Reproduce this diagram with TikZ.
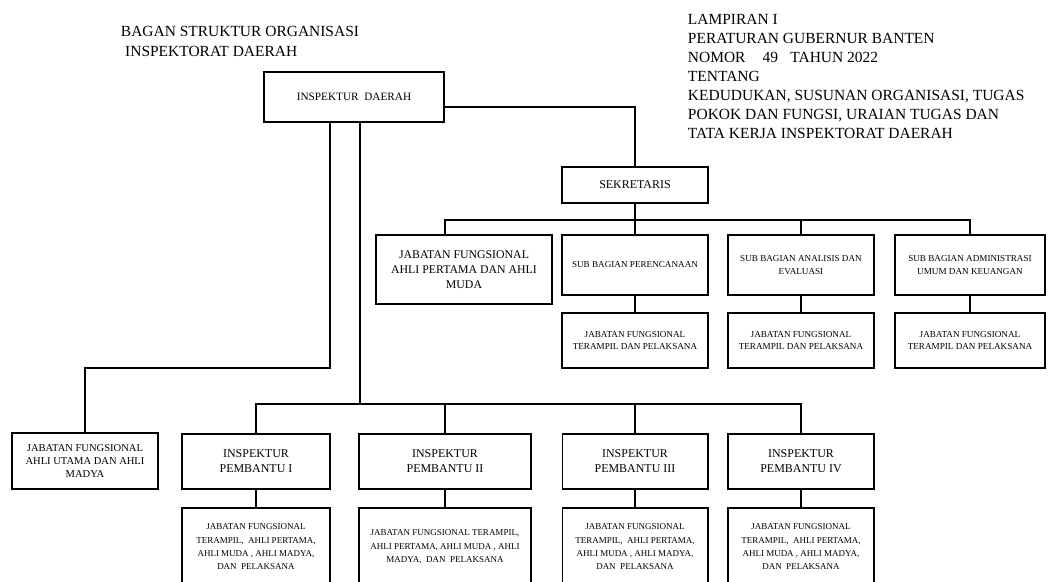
\documentclass[tikz,border=0pt]{standalone}
\usepackage{fontspec}
\setmainfont{Liberation Serif}

\begin{document}
\begin{tikzpicture}[x=0.025cm,y=-0.025cm,line width=1.4pt,
  box/.style={draw,align=center,inner sep=1pt},
  kop/.style={anchor=north west,align=left,inner sep=0pt},
  kecil/.style={font=\fontsize{6.5}{9}\selectfont},
  sedang/.style={font=\fontsize{8.5}{10.6}\selectfont},
  bawah/.style={font=\fontsize{6.4}{9.5}\selectfont}]
\useasboundingbox (0,0) rectangle (1048,581);
\clip (0,0) rectangle (1048,581);

% judul dan lampiran
\node[kop,font=\fontsize{11}{14.2}\selectfont] (judul) at (120,25)
  {BAGAN STRUKTUR ORGANISASI\\\hspace*{3pt}INSPEKTORAT DAERAH};
\node[kop,font=\fontsize{11}{13.5}\selectfont] (lampiran) at (687,13)
  {LAMPIRAN I\\PERATURAN GUBERNUR BANTEN\\NOMOR\hspace{1.1em}49\hspace{0.8em}TAHUN 2022\\TENTANG\\
   KEDUDUKAN, SUSUNAN ORGANISASI, TUGAS\\POKOK DAN FUNGSI, URAIAN TUGAS DAN\\TATA KERJA INSPEKTORAT DAERAH};

\node[box,font=\fontsize{8}{10}\selectfont,minimum width=4.5cm,minimum height=1.25cm] (inspektur) at (354,97) {INSPEKTUR\ \ DAERAH};
\node[box,sedang,minimum width=3.65cm,minimum height=0.9cm] (sekretaris) at (635,185) {SEKRETARIS};

% baris sekretariat
\node[box,font=\fontsize{8.4}{10.6}\selectfont,minimum width=4.4cm,minimum height=1.725cm] (jfpertama) at (464,269.5)
  {JABATAN FUNGSIONAL\\AHLI PERTAMA DAN AHLI\\MUDA};
\node[box,kecil,minimum width=3.65cm,minimum height=1.5cm] (sbrencana) at (635,265) {SUB BAGIAN PERENCANAAN};
\node[box,kecil,minimum width=3.65cm,minimum height=1.5cm] (sbanalisis) at (801,265) {SUB BAGIAN ANALISIS DAN\\EVALUASI};
\node[box,kecil,minimum width=3.75cm,minimum height=1.5cm] (sbadmin) at (970,265) {SUB BAGIAN ADMINISTRASI\\UMUM DAN KEUANGAN};

\node[box,kecil,minimum width=3.65cm,minimum height=1.375cm] (jfrencana) at (635,340.5) {JABATAN FUNGSIONAL\\TERAMPIL DAN PELAKSANA};
\node[box,kecil,minimum width=3.65cm,minimum height=1.375cm] (jfanalisis) at (801,340.5) {JABATAN FUNGSIONAL\\TERAMPIL DAN PELAKSANA};
\node[box,kecil,minimum width=3.75cm,minimum height=1.375cm] (jfadmin) at (970,340.5) {JABATAN FUNGSIONAL\\TERAMPIL DAN PELAKSANA};

% baris inspektur pembantu
\node[box,font=\fontsize{7.5}{9.5}\selectfont,minimum width=3.65cm,minimum height=1.4cm] (jfutama) at (85,461)
  {JABATAN FUNGSIONAL\\AHLI UTAMA DAN AHLI\\MADYA};
\node[box,sedang,minimum width=3.675cm,minimum height=1.375cm] (pembantu1) at (256,461.5) {INSPEKTUR\\PEMBANTU I};
\node[box,sedang,minimum width=4.275cm,minimum height=1.375cm] (pembantu2) at (445,461.5) {INSPEKTUR\\PEMBANTU II};
\node[box,sedang,minimum width=3.625cm,minimum height=1.375cm] (pembantu3) at (635,461.5) {INSPEKTUR\\PEMBANTU III};
\node[box,sedang,minimum width=3.65cm,minimum height=1.375cm] (pembantu4) at (801,461.5) {INSPEKTUR\\PEMBANTU IV};

\node[box,bawah,minimum width=3.675cm,minimum height=1.95cm] (jfpemb1) at (256,547)
  {JABATAN FUNGSIONAL\\TERAMPIL,\ \ AHLI PERTAMA,\\AHLI MUDA , AHLI MADYA,\\DAN\ \ PELAKSANA};
\node[box,bawah,minimum width=4.275cm,minimum height=1.95cm] (jfpemb2) at (445,547)
  {JABATAN FUNGSIONAL TERAMPIL,\\AHLI PERTAMA, AHLI MUDA , AHLI\\MADYA,\ \ DAN\ \ PELAKSANA};
\node[box,bawah,minimum width=3.625cm,minimum height=1.95cm] (jfpemb3) at (635,547)
  {JABATAN FUNGSIONAL\\TERAMPIL,\ \ AHLI PERTAMA,\\AHLI MUDA , AHLI MADYA,\\DAN\ \ PELAKSANA};
\node[box,bawah,minimum width=3.65cm,minimum height=1.95cm] (jfpemb4) at (801,547)
  {JABATAN FUNGSIONAL\\TERAMPIL,\ \ AHLI PERTAMA,\\AHLI MUDA , AHLI MADYA,\\DAN\ \ PELAKSANA};

% garis
\coordinate (bussek) at (635,220);
\coordinate (buspemb) at (360,404);

\draw ([yshift=-0.25cm]inspektur.east) -| (sekretaris.north);
\draw (sekretaris.south) -- (sbrencana.north);
\draw (bussek) -| ([xshift=-0.475cm]jfpertama.north);
\draw (bussek) -| (sbadmin.north);
\draw (sbanalisis.north) -- (sbanalisis.north |- bussek);
\draw (sbrencana) -- (jfrencana);
\draw (sbanalisis) -- (jfanalisis);
\draw (sbadmin) -- (jfadmin);

\draw ([xshift=-0.6cm]inspektur.south) -- ++(0,245) -| (jfutama.north);
\draw ([xshift=0.15cm]inspektur.south) -- (buspemb);
\draw (buspemb) -| (pembantu1.north);
\draw (buspemb) -| (pembantu4.north);
\draw (pembantu2.north) -- (pembantu2.north |- buspemb);
\draw (pembantu3.north) -- (pembantu3.north |- buspemb);
\draw (pembantu1) -- (jfpemb1);
\draw (pembantu2) -- (jfpemb2);
\draw (pembantu3) -- (jfpemb3);
\draw (pembantu4) -- (jfpemb4);
\end{tikzpicture}
\end{document}
